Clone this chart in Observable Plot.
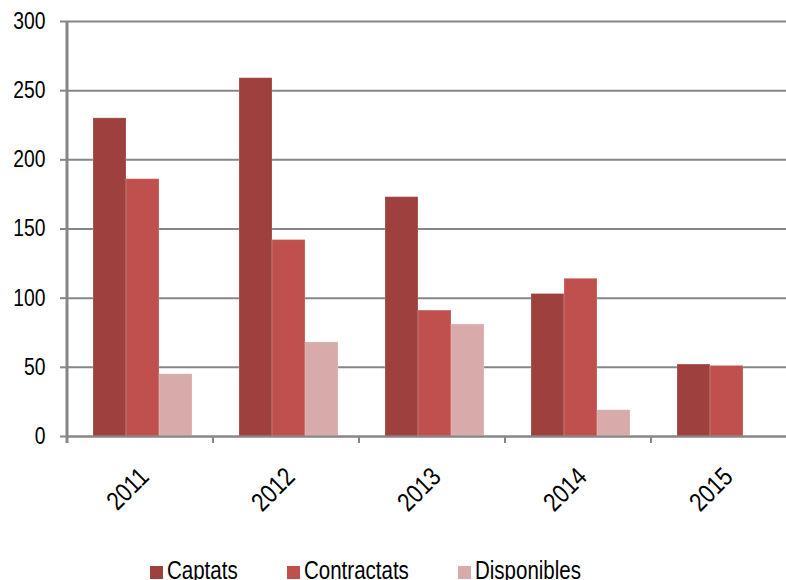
<!DOCTYPE html>
<html><head><meta charset="utf-8">
<script src="https://cdn.jsdelivr.net/npm/d3@7"></script>
<script src="https://cdn.jsdelivr.net/npm/@observablehq/plot@0.6"></script>
<style>
html,body{margin:0;padding:0;background:#fff;overflow:hidden;width:786px;height:580px}
#chart{position:absolute;left:0;top:0;width:797px}
#chart svg{max-width:none !important}
#legend{position:absolute;left:150px;top:556px;display:flex;font-family:"Liberation Sans",Arial,sans-serif;font-size:25px;color:#000;white-space:nowrap;line-height:29px}
.item{display:flex;align-items:center}
.sw{width:13px;height:13px;margin-right:4px;margin-top:4px}
.lbl{display:inline-block;transform:scaleX(0.82);transform-origin:0 50%}
</style></head><body>
<div id="chart"></div><div id="legend"></div>
<script>
const years = ["2011","2012","2013","2014","2015"];
const series = ["Captats","Contractats","Disponibles"];
const captats = [230,259,173,103,52];
const contractats = [186,142,91,114,51];
const disponibles = [45,68,81,19,null];
const colors = ["#9D403E","#C0504D","#D9AAAA"];
const yTicks = [0,50,100,150,200,250,300];

const data = [];
years.forEach((yr,i)=>{
  [captats,contractats,disponibles].forEach((arr,j)=>{
    if(arr[i]!=null) data.push({year:yr, series:series[j], value:arr[i]});
  });
});

const font = '"Liberation Sans",Arial,sans-serif';
const grey = "#868686";
const chart = Plot.plot({
  width: 797, height: 545,
  marginTop:21, marginBottom:109, marginLeft:67, marginRight:0,
  style:{fontFamily:font, fontSize:"23px", color:"#000", background:"#fff"},
  fx:{domain:years, padding:0, label:null, axis:null},
  x:{domain:series, paddingInner:0, paddingOuter:0.7, align:0.55, axis:null},
  y:{domain:[0,300], axis:null},
  color:{domain:series, range:colors},
  marks:[
    Plot.gridY(yTicks,{stroke:grey, strokeOpacity:1, strokeWidth:2}),
    Plot.barY(data,{fx:"year", x:"series", y:"value", fill:"series", stroke:"#fff", strokeOpacity:0.2, strokeWidth:1}),
    Plot.ruleY([0],{stroke:grey, strokeWidth:2}),
    Plot.axisY(yTicks,{tickSize:7, tickPadding:15, stroke:grey, strokeWidth:2, fill:"#000", fontSize:23, label:null, tickFormat:d=>String(d)}),
    Plot.axisFx({anchor:"bottom", tickSize:0, tickRotate:-45, tickPadding:36, dx:4, fontSize:26, fill:"#000", label:null})
  ]
});
chart.style.maxWidth = "none";
document.getElementById("chart").appendChild(chart);

// condense text horizontally to mimic the narrow typeface
d3.select(chart).selectAll("text").each(function(){
  const t = this.getAttribute("transform") || "";
  this.setAttribute("transform", t + " scale(0.84,1)");
});

// band-boundary ticks and left axis line, positioned via the plot's scales
const fx = chart.scale("fx");
const yS = chart.scale("y");
const y0 = yS.apply(0);
const g = d3.select(chart).append("g").attr("stroke", grey).attr("stroke-width", 2);
const bounds = years.map(yr => fx.apply(yr)).concat([fx.apply(years[years.length-1]) + fx.bandwidth]);
bounds.forEach(x0 => {
  g.append("line").attr("x1", x0).attr("x2", x0).attr("y1", y0).attr("y2", y0 + 7);
});
g.append("line").attr("x1", bounds[0]).attr("x2", bounds[0])
  .attr("y1", yS.apply(300)).attr("y2", y0 + 7).attr("stroke-width", 3);

// legend
const leg = d3.select("#legend");
const gaps = [0, 137, 308];
series.forEach((s,i)=>{
  const it = leg.append("div").attr("class","item").style("position","absolute").style("left", gaps[i]+"px");
  it.append("div").attr("class","sw").style("background", colors[i]);
  it.append("span").attr("class","lbl").text(s);
});
</script>
</body></html>
